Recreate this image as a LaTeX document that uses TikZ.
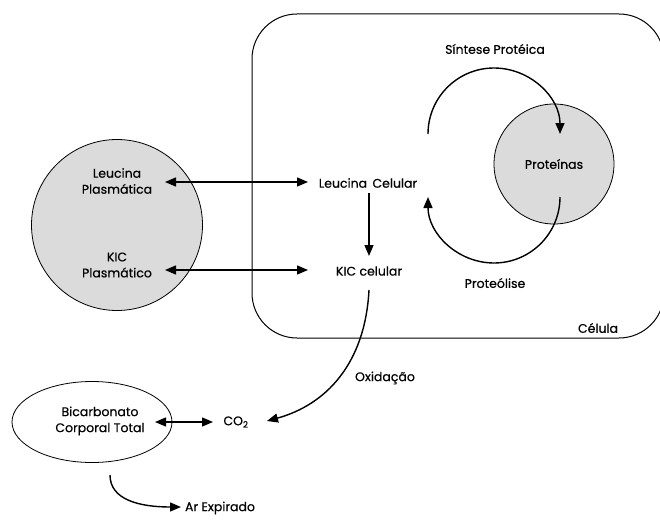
\documentclass[tikz,border=0pt]{standalone}
\usepackage{fontspec}
\setmainfont{Poppins}[FakeBold=0.5]
\usetikzlibrary{arrows.meta,shapes.geometric}
\begin{document}
\begin{tikzpicture}[x=1pt,y=-1pt,
  every node/.style={font=\fontsize{12.5}{16}\selectfont, align=center, inner sep=1pt},
  arr/.style={line width=1.4pt, -{Triangle[length=11pt,width=9pt]}},
  darr/.style={line width=1.4pt, {Triangle[length=11pt,width=9pt]}-{Triangle[length=11pt,width=9pt]}},
  pool/.style={circle, draw, line width=0.8pt, fill=black!14}]
\useasboundingbox (0,0) rectangle (660,524);
% cell
\draw[line width=1pt, rounded corners=45pt] (252,14) rectangle (664,338);
% pools
\node[pool, minimum size=171pt] (plasma) at (117,225) {};
\node (lp) at (117,181) {Leucina\\Plasmática};
\node (kp) at (117,265) {KIC\\Plasmático};
\node[pool, minimum size=120pt] (prot) at (554,164) {Proteínas};
\node[ellipse, draw, line width=0.8pt, minimum width=160pt, minimum height=81pt] (bic) at (92,422) {};
\node (bict) at (100,421) {Bicarbonato\\Corporal Total};
% labels
\node (lc) at (368,183) {Leucina\, Celular};
\node (kc) at (369,271) {KIC celular};
\node (sint) at (495,49) {Síntese Protéica};
\node (proteo) at (495,283) {Proteólise};
\node (cel) at (598,328) {Célula};
\node (ox) at (385,378) {Oxidação};
\node (co2) at (236,422) {CO\textsubscript{2}};
\node (ar) at (220,508) {Ar Expirado};
% anchor points
\coordinate (lpR) at (165,182);
\coordinate (lcL) at (308,182);
\coordinate (kpR) at (165,270);
\coordinate (kcL) at (308,270);
\coordinate (lcD) at (369,193);
\coordinate (kcU) at (369,256);
\coordinate (sA) at (428,134);
\coordinate (pA) at (560,197);
\coordinate (kcD) at (369,290);
\coordinate (co2R) at (267,421);
\coordinate (bicR) at (155,422);
\coordinate (co2L) at (213,422);
\coordinate (bicD) at (110,475);
\coordinate (arL) at (181,507);
% connectors
\draw[darr] (lpR) -- (lcL);
\draw[darr] (kpR) -- (kcL);
\draw[arr] (lcD) -- (kcU);
\draw[arr] (sA) arc[start angle=180, end angle=360, radius=66];
\draw[arr] (pA) arc[start angle=0, end angle=180, radius=66];
\draw[arr] (kcD) .. controls (365,365) and (325,405) .. (co2R);
\draw[darr] (bicR) -- (co2L);
\draw[arr] (bicD) .. controls (110,500) and (140,507) .. (arL);
\end{tikzpicture}
\end{document}
